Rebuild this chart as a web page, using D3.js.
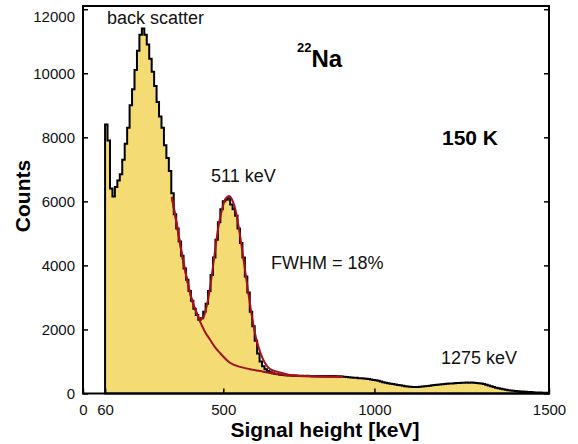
<!DOCTYPE html>
<html>
<head>
<meta charset="utf-8">
<script src="https://cdn.jsdelivr.net/npm/d3@7"></script>
<style>
  body { margin: 0; background: #fff; }
  svg { display: block; font-family: "Liberation Sans", Arial, sans-serif; }
  .tick text { font-size: 15px; fill: #111; }
  .tick line { stroke: #000; stroke-width: 1.5; }
</style>
</head>
<body>
<div id="chart"></div>
<script>
// spectrum is stored per MCA channel; the energy axis is labelled at calibrated channels
const histStart = 9;
const counts = [
  8400, 7900, 6400, 6150, 6450, 6650, 6850, 7300, 7800, 8300,
  9000, 9500, 10100, 10700, 11200, 11400, 11200, 10900, 10450, 10050,
  9600, 9100, 8650, 8300, 7750, 7350, 6950, 6250, 5600, 5150,
  4750, 4300, 3900, 3550, 3200, 2900, 2650, 2450, 2300, 2350,
  2550, 2800, 3200, 3700, 4250, 4800, 5350, 5750, 6000, 6050,
  6100, 5900, 5750, 5550, 5150, 4700, 4250, 3650, 3150, 2550,
  2100, 1650, 1250, 1000, 850, 760, 700, 660, 630, 610,
  600, 585, 580, 570, 565, 560, 555, 562, 552, 550,
  557, 545, 552, 543, 540, 548, 538, 545, 542, 547,
  538, 545, 541, 546, 538, 535, 530, 522, 515, 510,
  502, 494, 490, 480, 476, 468, 462, 452, 440, 425,
  410, 395, 376, 355, 337, 320, 308, 296, 280, 266,
  254, 241, 229, 220, 211, 204, 200, 206, 209, 216,
  224, 236, 244, 256, 264, 276, 284, 291, 296, 305,
  311, 314, 321, 326, 329, 332, 334, 340, 334, 341,
  336, 329, 321, 309, 296, 270, 250, 226, 200, 181,
  161, 145, 131, 116, 104, 96, 85, 79, 71, 64,
  60, 55, 50, 45, 40, 35, 32, 30, 27, 25, 22
];

// fitted curves (photopeak + background)
const fitCh  = [36.2, 38.2, 40.2, 42.3, 44.3, 46.4, 47.7, 48.9, 50.2, 51.8, 53.4, 55.0, 56.7, 58.3, 59.5, 60.8, 62.4, 64.0, 65.6, 67.3, 68.9, 70.5, 72.2, 74.2, 76.3, 80.3, 84.4, 92.6, 106.0];
const fitSum = [6140, 5300, 4400, 3600, 2950, 2500, 2330, 2350, 2650, 3300, 4200, 5100, 5750, 6100, 6170, 6050, 5650, 4950, 4100, 3200, 2400, 1750, 1300, 950, 760, 660, 580, 540, 525];
const bgCh   = [36.2, 38.2, 40.2, 42.3, 44.3, 46.4, 47.7, 49.7, 51.8, 53.8, 55.9, 59.9, 64.0, 68.1, 72.2, 76.3, 84.4, 92.6, 106.0];
const bgVal  = [6140, 5300, 4400, 3600, 2950, 2500, 2250, 1930, 1680, 1450, 1260, 960, 830, 760, 700, 640, 565, 535, 520];

const xTickCh = [0, 9, 57.2, 118.8, 190];
const xTickLabels = ['0', '60', '500', '1000', '1500'];
const yTicks = [0, 2000, 4000, 6000, 8000, 10000, 12000];

const W = 578, H = 444;
const plot = { left: 83, right: 549, top: 6, bottom: 393.5 };

const svg = d3.select('#chart').append('svg')
  .attr('width', W)
  .attr('height', H);

const x = d3.scaleLinear().domain([0, 190]).range([plot.left, plot.right]);
const y = d3.scaleLinear().domain([0, 12100]).range([plot.bottom, plot.top]);

// histogram
const bins = counts.map((v, i) => ({ c: histStart + i, v }));
bins.push({ c: histStart + counts.length, v: counts[counts.length - 1] });

const area = d3.area()
  .curve(d3.curveStepAfter)
  .x(d => x(d.c))
  .y0(y(0))
  .y1(d => y(d.v));

svg.append('path')
  .datum(bins)
  .attr('d', area)
  .attr('fill', '#f4db74')
  .attr('stroke', '#000')
  .attr('stroke-width', 2)
  .attr('stroke-linejoin', 'miter');

// fit curves
const fitLine = d3.line()
  .curve(d3.curveMonotoneX)
  .x(d => x(d[0]))
  .y(d => y(d[1]));

svg.append('path')
  .datum(bgCh.map((c, i) => [c, bgVal[i]]))
  .attr('d', fitLine)
  .attr('fill', 'none')
  .attr('stroke', '#a3121e')
  .attr('stroke-width', 2);

svg.append('path')
  .datum(fitCh.map((c, i) => [c, fitSum[i]]))
  .attr('d', fitLine)
  .attr('fill', 'none')
  .attr('stroke', '#a3121e')
  .attr('stroke-width', 2);

// axes: ticks point into the frame
const xAxis = d3.axisBottom(x)
  .tickValues(xTickCh)
  .tickFormat((d, i) => xTickLabels[i])
  .tickSize(-5)
  .tickPadding(11);

const gx = svg.append('g')
  .attr('transform', `translate(0,${plot.bottom})`)
  .call(xAxis);
gx.select('.domain').remove();
gx.selectAll('text').attr('font-family', null).attr('font-size', null);

const yAxis = d3.axisLeft(y)
  .tickValues(yTicks)
  .tickFormat(d3.format('d'))
  .tickSize(-5)
  .tickPadding(8);

const gy = svg.append('g')
  .attr('transform', `translate(${plot.left},0)`)
  .call(yAxis);
gy.select('.domain').remove();
gy.selectAll('text').attr('font-family', null).attr('font-size', null)
  .attr('dy', d => d === 12000 ? '0.8em' : '0.32em');

const gyr = svg.append('g')
  .attr('transform', `translate(${plot.right},0)`)
  .call(d3.axisRight(y).tickValues(yTicks).tickFormat('').tickSize(-5));
gyr.select('.domain').remove();

// frame
svg.append('rect')
  .attr('x', plot.left)
  .attr('y', plot.top)
  .attr('width', plot.right - plot.left)
  .attr('height', plot.bottom - plot.top)
  .attr('fill', 'none')
  .attr('stroke', '#000')
  .attr('stroke-width', 2);

// axis titles
svg.append('text')
  .attr('x', 325)
  .attr('y', 437)
  .attr('text-anchor', 'middle')
  .attr('font-size', 21)
  .attr('font-weight', 'bold')
  .text('Signal height [keV]');

svg.append('text')
  .attr('transform', 'translate(30,196) rotate(-90)')
  .attr('text-anchor', 'middle')
  .attr('font-size', 21)
  .attr('font-weight', 'bold')
  .text('Counts');

// annotations
const notes = [
  { t: 'back scatter', x: 107, y: 24 },
  { t: '511 keV', x: 211, y: 181.5 },
  { t: 'FWHM = 18%', x: 271, y: 268.5 },
  { t: '1275 keV', x: 441, y: 364 }
];
svg.selectAll('.note')
  .data(notes)
  .enter().append('text')
  .attr('class', 'note')
  .attr('x', d => d.x)
  .attr('y', d => d.y)
  .attr('font-size', 18)
  .attr('fill', '#111')
  .text(d => d.t);

svg.append('text')
  .attr('x', 442)
  .attr('y', 145)
  .attr('font-size', 21)
  .attr('font-weight', 'bold')
  .text('150 K');

const iso = svg.append('text')
  .attr('x', 297)
  .attr('y', 66.5)
  .attr('font-weight', 'bold');
iso.append('tspan')
  .attr('font-size', 13)
  .attr('dy', -15)
  .text('22');
iso.append('tspan')
  .attr('font-size', 24)
  .attr('dy', 15)
  .text('Na');
</script>
</body>
</html>
